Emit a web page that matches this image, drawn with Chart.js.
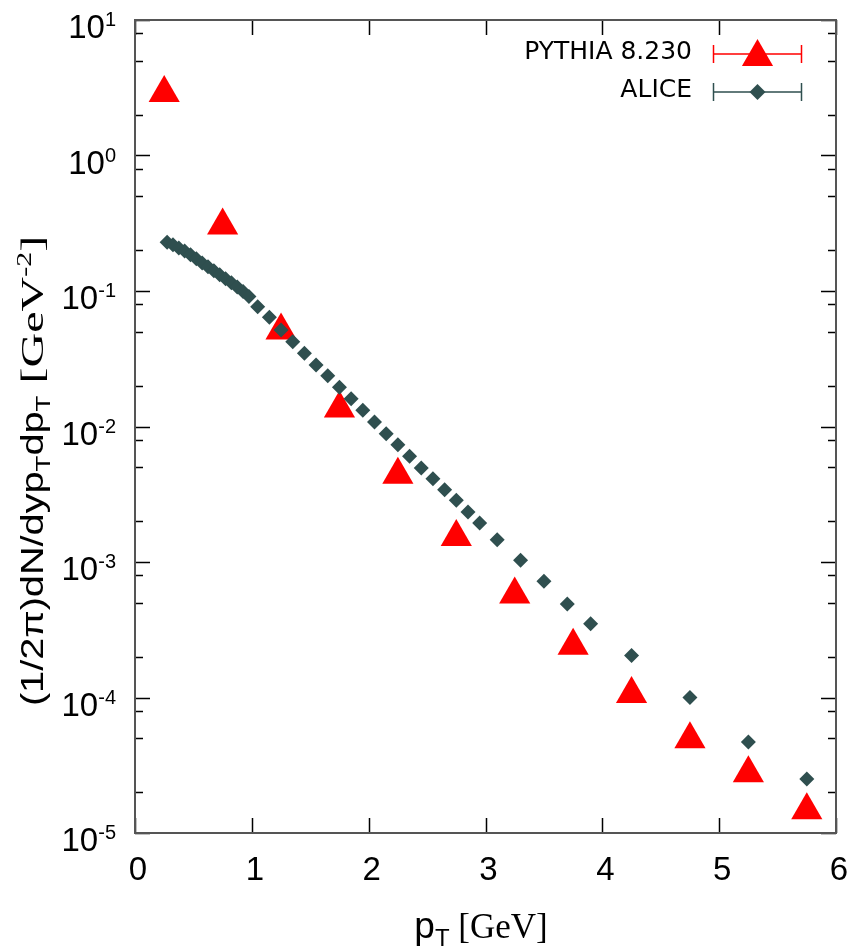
<!DOCTYPE html>
<html>
<head>
<meta charset="utf-8">
<script src="https://cdn.jsdelivr.net/npm/chart.js@4.4.1/dist/chart.umd.min.js"></script>
<style>
  html, body { margin: 0; padding: 0; background: #fff; }
</style>
</head>
<body>
<canvas id="spectrumChart" width="854" height="948"></canvas>
<script>
// PYTHIA 8.230 (bin centres in GeV, yield in GeV^-2)
const pythiaPt = [0.25, 0.75, 1.25, 1.75, 2.25, 2.75, 3.25, 3.75, 4.25, 4.75, 5.25, 5.75];
const pythiaYield = [2.89, 0.305, 0.0511, 0.0136, 0.0044, 0.00153, 5.75e-4, 2.41e-4, 1.06e-4, 4.91e-5, 2.76e-5, 1.47e-5];

// ALICE data
const alicePt = [
    0.275, 0.325, 0.375, 0.425, 0.475, 0.525, 0.575, 0.625, 0.675, 0.725, 0.775, 0.825, 0.875, 0.925, 0.975,
    1.05, 1.15, 1.25, 1.35, 1.45, 1.55, 1.65, 1.75, 1.85, 1.95,
    2.05, 2.15, 2.25, 2.35, 2.45, 2.55, 2.65, 2.75, 2.85, 2.95,
    3.1, 3.3, 3.5, 3.7, 3.9,
    4.25, 4.75, 5.25, 5.75
];
const aliceYield = [
    0.229, 0.219, 0.208, 0.197, 0.185, 0.173, 0.161, 0.151, 0.141, 0.132, 0.123, 0.115, 0.107, 0.099, 0.091,
    0.0766, 0.0639, 0.0516, 0.0422, 0.0347, 0.0284, 0.0237, 0.0195, 0.0160, 0.0132,
    0.0108, 0.00885, 0.00734, 0.00602, 0.00494, 0.00412, 0.00342, 0.00285, 0.00234, 0.00194,
    0.00146, 0.00103, 7.2e-4, 4.9e-4, 3.5e-4,
    2.04e-4, 1.0e-4, 4.7e-5, 2.5e-5
];

// axis ticks
const xTicks = [0, 1, 2, 3, 4, 5, 6];
const yExponents = [-5, -4, -3, -2, -1, 0, 1];
const yMinorSteps = [2, 5, 8];

const RED = "#ff0000";
const SLATE = "#2f4f4f";
const SANS = "'Liberation Sans', Arial, sans-serif";
const SERIF = "'Liberation Serif', 'Times New Roman', serif";

// draws pieces of text one after another, each with its own font, vertical shift and stretch
function drawRuns(ctx, runs, x, y) {
    let pos = x;
    runs.forEach(run => {
        const s = run.stretch || 1;
        ctx.font = run.font;
        ctx.save();
        ctx.translate(pos, y + (run.dy || 0));
        ctx.scale(s, 1);
        ctx.fillText(run.text, 0, 0);
        ctx.restore();
        pos += ctx.measureText(run.text).width * s;
    });
    return pos - x;
}

function runsWidth(ctx, runs) {
    let w = 0;
    runs.forEach(run => {
        ctx.font = run.font;
        w += ctx.measureText(run.text).width * (run.stretch || 1);
    });
    return w;
}

const framePlugin = {
    id: "gnuplotFrame",
    afterDraw(chart) {
        const ctx = chart.ctx;
        const area = chart.chartArea;
        const xs = chart.scales.x;
        const ys = chart.scales.y;

        ctx.save();

        // inward ticks, mirrored on all sides
        ctx.strokeStyle = "#000";
        ctx.lineWidth = 1.5;
        ctx.beginPath();
        xTicks.forEach(v => {
            const px = Math.round(xs.getPixelForValue(v)) + 0.5;
            ctx.moveTo(px, area.bottom); ctx.lineTo(px, area.bottom - 15);
            ctx.moveTo(px, area.top); ctx.lineTo(px, area.top + 15);
        });
        yExponents.forEach(e => {
            const py = Math.round(ys.getPixelForValue(Math.pow(10, e))) + 0.5;
            ctx.moveTo(area.left, py); ctx.lineTo(area.left + 15, py);
            ctx.moveTo(area.right, py); ctx.lineTo(area.right - 15, py);
            if (e < 1) {
                yMinorSteps.forEach(m => {
                    const pm = Math.round(ys.getPixelForValue(m * Math.pow(10, e))) + 0.5;
                    ctx.moveTo(area.left, pm); ctx.lineTo(area.left + 8, pm);
                    ctx.moveTo(area.right, pm); ctx.lineTo(area.right - 8, pm);
                });
            }
        });
        ctx.stroke();

        // border
        ctx.strokeStyle = "#555";
        ctx.lineWidth = 2;
        ctx.strokeRect(area.left, area.top, area.right - area.left, area.bottom - area.top);

        ctx.fillStyle = "#000";
        ctx.textBaseline = "alphabetic";

        // x tick labels
        ctx.textAlign = "center";
        ctx.font = "33px " + SANS;
        xTicks.forEach(v => {
            ctx.fillText(String(v), xs.getPixelForValue(v) + 3, 880);
        });

        // y tick labels 10^n, right aligned
        ctx.textAlign = "left";
        yExponents.forEach(e => {
            const py = ys.getPixelForValue(Math.pow(10, e));
            const runs = [
                { text: "10", font: "33px " + SANS, dy: 18 },
                { text: String(e), font: "20px " + SANS, dy: 6 }
            ];
            drawRuns(ctx, runs, 116 - runsWidth(ctx, runs), py);
        });

        // x axis title
        const xTitle = [
            { text: "p", font: "37px " + SANS },
            { text: "T", font: "24px " + SANS, dy: 8 },
            { text: " [GeV]", font: "35px " + SERIF }
        ];
        drawRuns(ctx, xTitle, 481 - runsWidth(ctx, xTitle) / 2, 938);

        // y axis title, rotated and stretched along its length like the original
        const yTitle = [
            { text: "(1/2\u03c0)dN/dyp", font: "32px " + SANS, stretch: 1.24 },
            { text: "T", font: "21px " + SANS, dy: 7, stretch: 1.24 },
            { text: "dp", font: "32px " + SANS, stretch: 1.24 },
            { text: "T", font: "21px " + SANS, dy: 7, stretch: 1.24 },
            { text: " [GeV", font: "32px " + SERIF, stretch: 1.5 },
            { text: "-2", font: "20px " + SERIF, dy: -12, stretch: 1.5 },
            { text: "]", font: "32px " + SERIF, stretch: 1.5 }
        ];
        ctx.translate(43, 471);
        ctx.rotate(-Math.PI / 2);
        drawRuns(ctx, yTitle, -runsWidth(ctx, yTitle) / 2, 0);
        ctx.setTransform(1, 0, 0, 1, 0, 0);

        // legend with error-bar samples
        const entries = [
            { label: "PYTHIA 8.230", color: RED, textY: 59, lineY: 54, markY: 57, style: "triangle" },
            { label: "ALICE", color: SLATE, textY: 97, lineY: 92, markY: 92, style: "diamond" }
        ];
        entries.forEach(item => {
            ctx.fillStyle = "#000";
            ctx.font = "25px 'DejaVu Sans', sans-serif";
            ctx.textAlign = "right";
            ctx.fillText(item.label, 692, item.textY);

            ctx.strokeStyle = item.color;
            ctx.lineWidth = 1.5;
            ctx.beginPath();
            ctx.moveTo(713, item.lineY); ctx.lineTo(802, item.lineY);
            ctx.moveTo(713.5, item.lineY - 9); ctx.lineTo(713.5, item.lineY + 9);
            ctx.moveTo(801.5, item.lineY - 9); ctx.lineTo(801.5, item.lineY + 9);
            ctx.stroke();

            ctx.fillStyle = item.color;
            ctx.beginPath();
            const cx = 757.5, cy = item.markY;
            if (item.style === "triangle") {
                const r = 18;
                ctx.moveTo(cx, cy - r);
                ctx.lineTo(cx + r * Math.sin(Math.PI / 3), cy + r / 2);
                ctx.lineTo(cx - r * Math.sin(Math.PI / 3), cy + r / 2);
            } else {
                const r = 8;
                ctx.moveTo(cx - r, cy); ctx.lineTo(cx, cy - r);
                ctx.lineTo(cx + r, cy); ctx.lineTo(cx, cy + r);
            }
            ctx.closePath();
            ctx.fill();
        });

        ctx.restore();
    }
};

function toPoints(xs, ys) {
    return xs.map((x, i) => ({ x: x, y: ys[i] }));
}

const ctx = document.getElementById("spectrumChart").getContext("2d");

new Chart(ctx, {
    type: "scatter",
    data: {
        datasets: [
            {
                label: "PYTHIA 8.230",
                data: toPoints(pythiaPt, pythiaYield),
                pointStyle: "triangle",
                pointRadius: 18,
                pointBackgroundColor: RED,
                pointBorderWidth: 0,
                order: 1,
                clip: false
            },
            {
                label: "ALICE",
                data: toPoints(alicePt, aliceYield),
                pointStyle: "rectRot",
                pointRadius: 7.5,
                pointBackgroundColor: SLATE,
                pointBorderWidth: 0,
                order: 0,
                clip: false
            }
        ]
    },
    options: {
        responsive: false,
        animation: false,
        layout: { padding: { left: 0, right: 15, top: 20, bottom: 0 } },
        plugins: {
            legend: { display: false },
            tooltip: { enabled: false }
        },
        scales: {
            x: {
                type: "linear",
                min: 0,
                max: 6,
                grid: { display: false },
                border: { display: false },
                ticks: { display: false },
                afterFit: scale => { scale.height = 115; }
            },
            y: {
                type: "logarithmic",
                min: 1e-5,
                max: 10,
                grid: { display: false },
                border: { display: false },
                ticks: { display: false },
                afterFit: scale => { scale.width = 135; }
            }
        }
    },
    plugins: [framePlugin]
});
</script>
</body>
</html>
